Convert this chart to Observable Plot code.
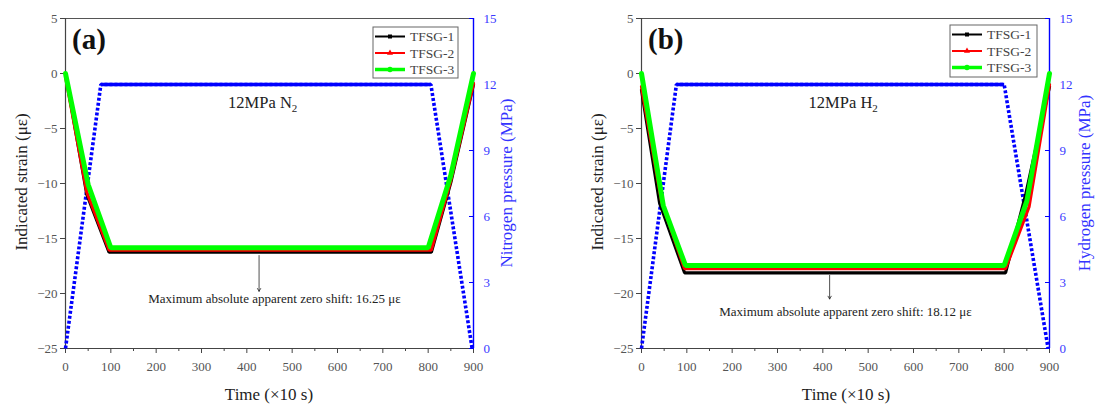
<!DOCTYPE html>
<html><head><meta charset="utf-8">
<script src="https://cdn.jsdelivr.net/npm/d3@7"></script>
<script src="https://cdn.jsdelivr.net/npm/@observablehq/plot@0.6"></script>
<style>
body{margin:0;background:#fff;}
#wrap{position:relative;width:1102px;height:410px;overflow:hidden;background:#fff;font-family:"Liberation Serif",serif}
#wrap svg, #wrap svg text{font-family:"Liberation Serif",serif !important;}
.panel{position:absolute;top:0}
.overlay{position:absolute;left:0;top:0;pointer-events:none}
</style></head><body><div id="wrap"></div>
<script>
// ---------- data ----------
const seriesNames = ["TFSG-1", "TFSG-2", "TFSG-3"];
const seriesColors = ["#000000", "#ff0000", "#00ff00"];

// Panel (a): nitrogen
const timeA1 = [0, 47, 96, 807, 850, 900];
const strainA1 = [0, -11.0, -16.25, -16.25, -9.9, -1.0];
const timeA2 = [0, 47, 96, 807, 850, 900];
const strainA2 = [-0.3, -10.8, -16.05, -16.05, -9.7, -0.9];
const timeA3 = [0, 50, 100, 800, 850, 900];
const strainA3 = [0, -10.1, -15.85, -15.85, -9.25, 0];
const pressTimeA = [0, 78, 806, 897];
const pressA = [0, 12, 12, 0];

// Panel (b): hydrogen
const timeB1 = [0, 40, 95, 803, 848, 900];
const strainB1 = [-1.5, -11.8, -18.12, -18.12, -10.9, -1.2];
const timeB2 = [0, 44, 95, 803, 855, 900];
const strainB2 = [-1.2, -11.6, -17.75, -17.75, -12.1, -1.0];
const timeB3 = [0, 48, 97, 800, 850, 900];
const strainB3 = [0, -12.0, -17.45, -17.45, -11.6, 0];
const pressTimeB = [0, 77, 800, 897];
const pressB = [0, 12, 12, 0];

// ticks
const timeTicks = [0, 100, 200, 300, 400, 500, 600, 700, 800, 900];
const timeMinorTicks = [50, 150, 250, 350, 450, 550, 650, 750, 850];
const strainTicks = [5, 0, -5, -10, -15, -20, -25];
const pressureTicks = [0, 3, 6, 9, 12, 15];
const strainDomain = [-25, 5];
const pressureDomain = [0, 15];
const timeDomain = [0, 900];

// annotations
const gasLabels = ["12MPa N2", "12MPa H2"];
const gasLabelTime = [435, 445];
const gasLabelStrain = [-2.7, -2.7];
const shiftLabels = ["Maximum absolute apparent zero shift: 16.25 με", "Maximum absolute apparent zero shift: 18.12 με"];
const shiftLabelTime = [461, 450];
const shiftLabelStrain = [-20.5, -21.7];
const arrowTime = [427, 415];
const arrowFrom = [-16.55, -18.35];
const arrowTo = [-19.8, -20.5];

// ---------- helpers ----------
const toStrain = p => strainDomain[0] + (p - pressureDomain[0]) * (strainDomain[1] - strainDomain[0]) / (pressureDomain[1] - pressureDomain[0]);
const fromStrain = v => pressureDomain[0] + (v - strainDomain[0]) * (pressureDomain[1] - pressureDomain[0]) / (strainDomain[1] - strainDomain[0]);
const zipTS = (t, s, name) => t.map((v, i) => ({t: v, s: s[i], name}));
const FONT = "Liberation Serif";

function panel(cfg) {
  const series = cfg.series.map((sr, i) => zipTS(sr[0], sr[1], seriesNames[i]));
  const press = cfg.pt.map((t, i) => ({t, p: cfg.pv[i]}));
  const pMax = d3.max(cfg.pv);
  const marks = [
    // frame lines
    Plot.ruleY([strainDomain[1]], {stroke: "#555", strokeWidth: 1}),
    Plot.ruleY([strainDomain[0]], {stroke: "#444", strokeWidth: 1.2}),
    Plot.ruleX([timeDomain[0]], {stroke: "#444", strokeWidth: 1.2}),
    Plot.ruleX([timeDomain[1]], {stroke: "#0000ff", strokeWidth: 1.4}),
    // axes
    Plot.axisX({ticks: timeTicks, tickSize: 5, tickPadding: 8, fontSize: 13, fontFamily: FONT, fill: "#555", stroke: "#444", label: null, tickFormat: d3.format("d")}),
    Plot.axisX({ticks: timeMinorTicks, tickSize: 3, tickFormat: () => "", label: null, stroke: "#444"}),
    Plot.axisY({ticks: strainTicks, tickSize: 5, tickPadding: 3, fontSize: 13, fontFamily: FONT, fill: "#555", stroke: "#444", label: null}),
    Plot.axisY({anchor: "right", ticks: pressureTicks.map(toStrain), tickFormat: v => String(Math.round(fromStrain(v))), tickSize: -5, tickPadding: 15, fontSize: 13, fontFamily: FONT, fill: "#3a3aff", stroke: "#0000ff", label: null}),
    // pressure
    Plot.line(press, {x: "t", y: d => toStrain(d.p), stroke: "#0000ff", strokeWidth: 3.6, strokeDasharray: "3,2", strokeLinecap: "butt", strokeLinejoin: "miter"}),
    Plot.line(press.filter(d => d.p === pMax), {x: "t", y: d => toStrain(d.p), stroke: "#0000ff", strokeWidth: 3.6, strokeLinecap: "butt"}),
    // strains
    Plot.line(series[0], {x: "t", y: "s", stroke: seriesColors[0], strokeWidth: 3.2, strokeLinejoin: "miter"}),
    Plot.line(series[1], {x: "t", y: "s", stroke: seriesColors[1], strokeWidth: 3.2, strokeLinejoin: "miter"}),
    Plot.line(series[2], {x: "t", y: "s", stroke: seriesColors[2], strokeWidth: 5, strokeLinejoin: "miter"}),
    // annotations
    Plot.text([cfg.gas], {x: () => cfg.gasT, y: () => cfg.gasS, text: d => d, fontSize: 16.5, fontFamily: FONT, fill: "#222", textAnchor: "middle"}),
    Plot.arrow([0], {x1: () => cfg.arT, x2: () => cfg.arT, y1: () => cfg.arFrom, y2: () => cfg.arTo, stroke: "#222", strokeWidth: 0.8, headLength: 6}),
    Plot.text([cfg.shift], {x: () => cfg.shiftT, y: () => cfg.shiftS, text: d => d, fontSize: 13, fontFamily: FONT, fill: "#222", textAnchor: "middle"})
  ];
  const svg = Plot.plot({
    width: 551, height: 410,
    marginLeft: cfg.ml, marginRight: cfg.mr, marginTop: 18, marginBottom: 62,
    x: {domain: timeDomain, axis: null},
    y: {domain: strainDomain, axis: null},
    style: {fontFamily: FONT, background: "transparent", overflow: "visible"},
    marks
  });
  svg.querySelectorAll("text, g").forEach(el => {
    el.setAttribute("font-family", FONT);
    el.style.fontFamily = '"Liberation Serif", serif';
  });
  // subscript for gas label
  svg.querySelectorAll("text").forEach(el => {
    if (el.textContent === cfg.gas && el.children.length === 0) {
      const base = cfg.gas.slice(0, -1), sub = cfg.gas.slice(-1);
      el.textContent = base;
      const ts = document.createElementNS("http://www.w3.org/2000/svg", "tspan");
      ts.setAttribute("dy", "4");
      ts.setAttribute("font-size", "11");
      ts.textContent = sub;
      el.appendChild(ts);
    }
  });
  svg.classList.add("panel");
  svg.style.left = cfg.left + "px";
  return svg;
}

const wrap = document.getElementById("wrap");
wrap.appendChild(panel({
  left: 0, ml: 65, mr: 78,
  series: [[timeA1, strainA1], [timeA2, strainA2], [timeA3, strainA3]],
  pt: pressTimeA, pv: pressA,
  gas: gasLabels[0], gasT: gasLabelTime[0], gasS: gasLabelStrain[0],
  shift: shiftLabels[0], shiftT: shiftLabelTime[0], shiftS: shiftLabelStrain[0],
  arT: arrowTime[0], arFrom: arrowFrom[0], arTo: arrowTo[0]
}));
wrap.appendChild(panel({
  left: 551, ml: 90, mr: 53,
  series: [[timeB1, strainB1], [timeB2, strainB2], [timeB3, strainB3]],
  pt: pressTimeB, pv: pressB,
  gas: gasLabels[1], gasT: gasLabelTime[1], gasS: gasLabelStrain[1],
  shift: shiftLabels[1], shiftT: shiftLabelTime[1], shiftS: shiftLabelStrain[1],
  arT: arrowTime[1], arFrom: arrowFrom[1], arTo: arrowTo[1]
}));

// ---------- overlay: titles, panel letters, legends ----------
const ov = d3.select(wrap).append("svg").attr("class", "overlay").attr("width", 1102).attr("height", 410)
  .style("font-family", FONT);
function txt(x, y, s, opts = {}) {
  const t = ov.append("text").attr("x", x).attr("y", y).text(s)
    .attr("font-size", opts.size || 17).attr("fill", opts.fill || "#222")
    .attr("text-anchor", opts.anchor || "middle");
  if (opts.bold) t.attr("font-weight", "bold");
  if (opts.rot) t.attr("transform", `rotate(-90 ${x} ${y})`);
  return t;
}
txt(72, 49, "(a)", {size: 29, bold: true, anchor: "start", fill: "#111"});
txt(648, 49, "(b)", {size: 29, bold: true, anchor: "start", fill: "#111"});
txt(27, 182, "Indicated strain (με)", {rot: true});
txt(603, 182, "Indicated strain (με)", {rot: true});
txt(269, 400, "Time (×10 s)");
txt(846, 400, "Time (×10 s)");
txt(512, 183, "Nitrogen pressure (MPa)", {rot: true, fill: "#3333ff"});
txt(1090, 183, "Hydrogen pressure (MPa)", {rot: true, fill: "#3333ff"});

function legend(x0, y0, w, h) {
  const g = ov.append("g").attr("transform", `translate(${x0},${y0})`);
  g.append("rect").attr("width", w).attr("height", h).attr("fill", "#fff").attr("stroke", "#666").attr("stroke-width", 1);
  const rowY = [9.5, 26, 42.5];
  seriesNames.forEach((n, i) => {
    const y = rowY[i];
    g.append("line").attr("x1", 2).attr("x2", 32).attr("y1", y).attr("y2", y)
      .attr("stroke", seriesColors[i]).attr("stroke-width", i === 2 ? 3.5 : 2);
    const sym = [d3.symbolSquare, d3.symbolTriangle, d3.symbolCircle][i];
    g.append("path").attr("d", d3.symbol(sym, i === 2 ? 22 : 16)()).attr("transform", `translate(17,${y})`).attr("fill", seriesColors[i]);
    g.append("text").attr("x", 37).attr("y", y + 4.5).attr("font-size", 13.5).attr("fill", "#444").text(n);
  });
}
legend(373, 27, 85, 51);
legend(950, 25, 87, 52);
</script></body></html>
